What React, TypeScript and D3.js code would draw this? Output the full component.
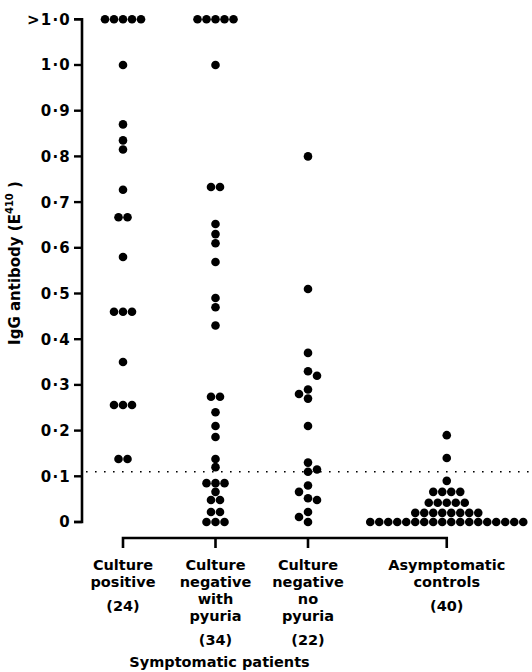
import React from "react";
import * as d3 from "d3";

// ">1·0" is plotted one tick above 1·0
const OVER = 1.1;

const groupNames = [
  "Culture positive",
  "Culture negative with pyuria",
  "Culture negative no pyuria",
  "Asymptomatic controls",
];
const groupLabelLines = [
  ["Culture", "positive"],
  ["Culture", "negative", "with", "pyuria"],
  ["Culture", "negative", "no", "pyuria"],
  ["Asymptomatic", "controls"],
];
const groupCounts = ["(24)", "(34)", "(22)", "(40)"];

const culturePositive = [
  OVER, OVER, OVER, OVER, OVER, 1.0, 0.87, 0.835, 0.815, 0.727, 0.667, 0.667,
  0.58, 0.46, 0.46, 0.46, 0.35, 0.256, 0.256, 0.256, 0.138, 0.138,
];
const cultureNegPyuria = [
  OVER, OVER, OVER, OVER, OVER, 1.0, 0.733, 0.733, 0.652, 0.63, 0.61, 0.569,
  0.49, 0.47, 0.43, 0.274, 0.274, 0.24, 0.21, 0.186, 0.138, 0.12,
  0.085, 0.085, 0.085, 0.066, 0.048, 0.048, 0.022, 0.022, 0, 0, 0,
];
const cultureNegNoPyuria = [
  0.8, 0.51, 0.37, 0.33, 0.32, 0.29, 0.28, 0.27, 0.21, 0.13, 0.115, 0.11,
  0.08, 0.066, 0.052, 0.048, 0.022, 0.011, 0,
];
const asymptomaticControls = [
  0.19, 0.14, 0.09,
  0.066, 0.066, 0.066, 0.066,
  0.042, 0.042, 0.042, 0.042, 0.042,
  0.02, 0.02, 0.02, 0.02, 0.02, 0.02, 0.02, 0.02,
  0, 0, 0, 0, 0, 0, 0, 0, 0, 0, 0, 0, 0, 0, 0, 0, 0, 0,
];
const seriesValues = [culturePositive, cultureNegPyuria, cultureNegNoPyuria, asymptomaticControls];

const tickValues = [0, 0.1, 0.2, 0.3, 0.4, 0.5, 0.6, 0.7, 0.8, 0.9, 1.0, OVER];
const tickLabels = ["0", "0·1", "0·2", "0·3", "0·4", "0·5", "0·6", "0·7", "0·8", "0·9", "1·0", ">1·0"];
const thresholdValue = 0.11;

// ---------- layout ----------
const W = 532;
const H = 672;
const AXIS_X = 82;
const groupSlots = [0, 1, 2, 3.5];
const R = 4.3;
const STEP = 9;
const MIN_DIST = 8.2;
const FONT = "'DejaVu Sans', 'Liberation Sans', Arial, sans-serif";
const LABEL_SIZE = 14.5;
const LINE_H = 17;

const x = d3.scaleLinear().domain([0, 3]).range([123, 400.5]);
const y = d3.scaleLinear().domain([0, 1]).range([522, 65]);

type P = { x: number; y: number };

function swarm(values: number[], cx: number): P[] {
  const counts = d3.rollup(values, (v) => v.length, (d) => d);
  const uniq = Array.from(counts.keys()).sort((a, b) => b - a);
  const placed: P[] = [];
  let nextSide = 1;
  for (const v of uniq) {
    const n = counts.get(v) as number;
    const yy = y(v);
    if (n > 1) {
      for (let i = 0; i < n; i++) placed.push({ x: cx + (i - (n - 1) / 2) * STEP, y: yy });
    } else {
      const free = (xx: number) => placed.every((p) => Math.hypot(p.x - xx, p.y - yy) >= MIN_DIST);
      let xx = cx;
      if (!free(xx)) {
        for (const s of [nextSide, -nextSide, 2 * nextSide, -2 * nextSide]) {
          if (free(cx + s * STEP)) {
            xx = cx + s * STEP;
            nextSide = -Math.sign(s);
            break;
          }
        }
      }
      placed.push({ x: xx, y: yy });
    }
  }
  return placed;
}

export default function App() {
  const yTop = y(OVER);
  const y0 = y(0);
  const bracketY = 538;
  const bracketTick = 10;
  const gx = groupSlots.map((s) => x(s));

  return (
    <svg
      width={W}
      height={H}
      style={{ position: "absolute", left: 0, top: 0, background: "#fff" }}
      fontFamily={FONT}
      fontWeight="bold"
    >
      <rect width={W} height={H} fill="#fff" />
      {/* y axis */}
      <path
        d={`M${AXIS_X - 8},${yTop}H${AXIS_X}V${y0}H${AXIS_X - 8}`}
        fill="none"
        stroke="#000"
        strokeWidth={2.6}
      />
      {tickValues.map((t, i) => (
        <g key={t}>
          <line x1={AXIS_X - 8} x2={AXIS_X} y1={y(t)} y2={y(t)} stroke="#000" strokeWidth={2.4} />
          <text x={71} y={y(t)} dy="0.36em" textAnchor="end" fontSize={15} letterSpacing={1.2}>
            {tickLabels[i]}
          </text>
        </g>
      ))}
      <text transform={`translate(20,263) rotate(-90)`} textAnchor="middle" fontSize={15}>
        IgG antibody (E
        <tspan fontSize={10} dy={-7}>410</tspan>
        <tspan dy={7}> )</tspan>
      </text>

      {/* threshold */}
      <line
        x1={86}
        x2={W}
        y1={y(thresholdValue)}
        y2={y(thresholdValue)}
        stroke="#000"
        strokeWidth={1.6}
        strokeDasharray="1.6 7.4"
      />

      {/* dots */}
      {seriesValues.map((vals, gi) =>
        swarm(vals, gx[gi]).map((p, i) => <circle key={`${gi}-${i}`} cx={p.x} cy={p.y} r={R} fill="#000" />)
      )}

      {/* bracket */}
      <path
        d={`M${gx[0]},${bracketY + bracketTick}V${bracketY}H${gx[3]}V${bracketY + bracketTick}`}
        fill="none"
        stroke="#000"
        strokeWidth={2.6}
      />
      {[gx[1], gx[2]].map((xx, i) => (
        <line key={i} x1={xx} x2={xx} y1={bracketY} y2={bracketY + bracketTick} stroke="#000" strokeWidth={2.6} />
      ))}

      {/* category labels */}
      {groupNames.map((g, gi) => {
        const lines = groupLabelLines[gi];
        const lastY = 570 + (lines.length - 1) * LINE_H;
        return (
          <g key={g}>
            {lines.map((l, li) => (
              <text key={li} x={gx[gi]} y={570 + li * LINE_H} textAnchor="middle" fontSize={LABEL_SIZE}>
                {l}
              </text>
            ))}
            <text x={gx[gi]} y={lastY + 24} textAnchor="middle" fontSize={LABEL_SIZE}>
              {groupCounts[gi]}
            </text>
          </g>
        );
      })}
      <text x={(gx[0] + gx[2]) / 2 + 4} y={667} textAnchor="middle" fontSize={LABEL_SIZE}>
        Symptomatic patients
      </text>
    </svg>
  );
}
